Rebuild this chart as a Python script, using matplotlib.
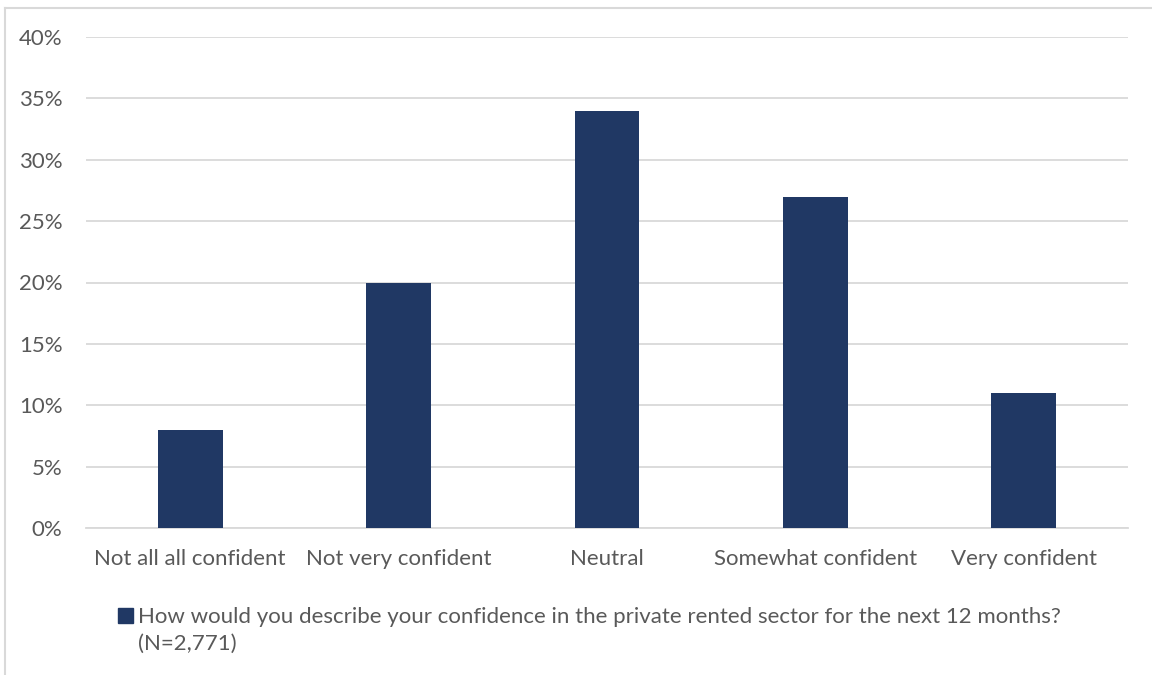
import matplotlib
matplotlib.use('Agg')
import matplotlib.pyplot as plt
from matplotlib.patches import Rectangle
from matplotlib.lines import Line2D

# Survey responses
categories = ['Not all all confident', 'Not very confident', 'Neutral',
              'Somewhat confident', 'Very confident']
shares = [8, 20, 34, 27, 11]
yticks = [0, 5, 10, 15, 20, 25, 30, 35, 40]
legend_text = ('How would you describe your confidence in the private rented sector for the next 12 months?\n'
               '(N=2,771)')

plt.rcParams['font.family'] = ['Lato', 'DejaVu Sans']

bar_color = '#203864'
text_color = '#595959'
grid_color = '#d9d9d9'

fig = plt.figure(figsize=(11.52, 6.75), dpi=100)
ax = fig.add_axes([86 / 1152, 1 - 528 / 675, 1042 / 1152, 491 / 675])

x = range(len(categories))
ax.bar(x, shares, width=0.31, color=bar_color, zorder=3)

ax.set_xlim(-0.5, len(categories) - 0.5)
ax.set_ylim(0, 40)
ax.set_yticks(yticks)
ax.set_yticklabels([f'{t}%' for t in yticks])
ax.set_xticks(list(x))
ax.set_xticklabels(categories)

ax.tick_params(axis='both', length=0, labelsize=16, colors=text_color)
ax.tick_params(axis='y', pad=17)
ax.tick_params(axis='x', pad=15)
ax.grid(axis='y', color=grid_color, linewidth=1.3, zorder=0)
for side in ['top', 'right', 'left']:
    ax.spines[side].set_visible(False)
ax.spines['bottom'].set_color(grid_color)
ax.spines['bottom'].set_linewidth(1.3)

# Legend entry under the chart
fig.patches.append(Rectangle((118 / 1152, 1 - 623 / 675), 15 / 1152, 15 / 675,
                             transform=fig.transFigure, color=bar_color))
fig.text(138 / 1152, 1 - 607 / 675, legend_text, fontsize=16, color=text_color,
         va='top', ha='left', linespacing=1.4)

# Chart frame (left and top edges)
fig.add_artist(Line2D([5 / 1152, 5 / 1152], [0, 1 - 8 / 675], transform=fig.transFigure,
                      color=grid_color, linewidth=1.5))
fig.add_artist(Line2D([5 / 1152, 1], [1 - 8 / 675, 1 - 8 / 675], transform=fig.transFigure,
                      color=grid_color, linewidth=1.5))

fig.savefig('out.png', dpi=100)
